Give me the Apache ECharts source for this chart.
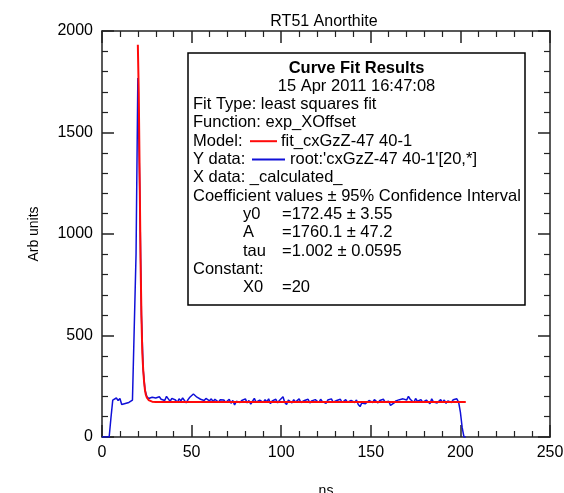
<!DOCTYPE html>
<html><head><meta charset="utf-8">
<script src="https://cdn.jsdelivr.net/npm/echarts@6/dist/echarts.min.js"></script>
<style>html,body{margin:0;padding:0;background:#fff}#c{width:564px;height:493px}</style>
</head><body><div id="c"></div>
<script>
// ---- data ----
const chartTitle = 'RT51 Anorthite';
const xAxisName = 'ns';
const yAxisName = 'Arb units';

// measured trace (blue), one sample per ns starting at 0 ns
const measuredStart = 0;
const measuredStep = 1;
const measuredValues = [
  0, 0, 0, 0, 0, 95, 182, 176, 192, 180,
  190, 160, 152, 165, 168, 170, 176, 182, 178, 900,
  1768, 1250, 600, 330, 230, 200, 190, 185, 196, 188,
  192, 184, 198, 186, 194, 180, 200, 188, 176, 190,
  196, 182, 170, 188, 178, 192, 186, 168, 184, 196,
  205, 212, 208, 196, 200, 186, 194, 180, 190, 184,
  178, 188, 174, 186, 180, 172, 184, 176, 182, 170,
  178, 186, 166, 180, 158, 176, 184, 170, 180, 174,
  188, 168, 180, 162, 176, 190, 172, 166, 182, 176,
  170, 184, 174, 188, 164, 178, 172, 186, 168, 180,
  176, 198, 170, 160, 182, 176, 168, 184, 172, 178,
  188, 170, 164, 180, 176, 186, 168, 178, 172, 184,
  176, 170, 186, 174, 180, 166, 182, 176, 188, 172,
  168, 180, 174, 186, 170, 178, 184, 172, 166, 180,
  176, 170, 182, 160, 150, 168, 176, 164, 172, 180,
  178, 170, 184, 176, 168, 180, 174, 186, 172, 166,
  176, 156, 150, 168, 178, 170, 184, 176, 188, 196,
  182, 200, 186, 178, 170, 190, 176, 168, 184, 172,
  166, 182, 176, 164, 188, 172, 180, 168, 176, 184,
  170, 182, 166, 178, 186, 170, 184, 176, 188, 172,
  122, 46, 0, 0
];

// fit curve (red)
const fitX = [20, 20.5, 21, 21.5, 22, 22.5, 23, 23.5, 24, 24.5, 25, 26, 27, 28, 30, 203];
const fitY = [1932, 1700, 1300, 880, 600, 414, 330, 270, 230, 207, 195, 182, 176, 174, 173, 172.45];

// axis ticks
const xMin = 0, xMax = 250, xInterval = 50;
const yMin = 0, yMax = 2000, yInterval = 500;

// annotation box text
const boxTitle = 'Curve Fit Results';
const boxDate = '15 Apr 2011 16:47:08';
const boxRows = [
  ['Fit Type: least squares fit'],
  ['Function: exp_XOffset'],
  ['Model:', 'model', 'fit_cxGzZ-47 40-1'],
  ['Y data:', 'ydata', "root:'cxGzZ-47 40-1'[20,*]"],
  ['X data: _calculated_'],
  ['Coefficient values \u00b1 95% Confidence Interval'],
  ['', 'y0', '=172.45 \u00b1 3.55'],
  ['', 'A', '=1760.1 \u00b1 47.2'],
  ['', 'tau', '=1.002 \u00b1 0.0595'],
  ['Constant:'],
  ['', 'X0', '=20']
];

// ---- build ----
const FONT = "'Liberation Sans', Arial, sans-serif";
const BLUE = '#1010d8';
const RED = '#ff0a0a';
const measured = measuredValues.map((v, i) => [measuredStart + i * measuredStep, v]);
const fit = fitX.map((x, i) => [x, fitY[i]]);

const axisLine = {show: true, onZero: false, lineStyle: {color: '#222', width: 1.5}};
const majorTick = {show: true, inside: true, length: 12, lineStyle: {color: '#222', width: 1.5}};
const minorTick = {show: true, splitNumber: 5, length: 6, lineStyle: {color: '#222', width: 1.2}};
const label = {color: '#000', fontFamily: FONT, fontSize: 16, formatter: v => String(v)};
const BOXFONT = '16.5px ' + FONT;

const graphics = [];
graphics.push({type: 'text', x: 324, y: 22, style: {text: chartTitle, font: '16px ' + FONT, fill: '#000', textAlign: 'center', textVerticalAlign: 'middle'}});
const boxL = 188, boxT = 53, boxR = 525, boxB = 305;
graphics.push({type: 'rect', shape: {x: boxL, y: boxT, width: boxR - boxL, height: boxB - boxT}, style: {fill: '#fff', stroke: '#000', lineWidth: 1.5}, z: 10});
const cx = (boxL + boxR) / 2;
const lineY0 = 68, lineStep = 18.3;
graphics.push({type: 'text', x: cx, y: lineY0, z: 11, style: {text: boxTitle, font: 'bold ' + BOXFONT, fill: '#000', textAlign: 'center', textVerticalAlign: 'middle'}});
graphics.push({type: 'text', x: cx, y: lineY0 + lineStep, z: 11, style: {text: boxDate, font: BOXFONT, fill: '#000', textAlign: 'center', textVerticalAlign: 'middle'}});
boxRows.forEach((row, i) => {
  const y = lineY0 + lineStep * (i + 2);
  const t = (x, s) => graphics.push({type: 'text', x: x, y: y, z: 11, style: {text: s, font: BOXFONT, fill: '#000', textAlign: 'left', textVerticalAlign: 'middle'}});
  if (row.length === 1) { t(193, row[0]); return; }
  if (row[1] === 'model' || row[1] === 'ydata') {
    t(193, row[0]);
    const isModel = row[1] === 'model';
    const x1 = isModel ? 250 : 252, x2 = isModel ? 277 : 285;
    graphics.push({type: 'line', z: 11, shape: {x1: x1, y1: y, x2: x2, y2: y}, style: {stroke: isModel ? RED : BLUE, lineWidth: 2}});
    t(isModel ? 281 : 290, row[2]);
    return;
  }
  t(243, row[1]);
  t(282, row[2]);
});

const chart = echarts.init(document.getElementById('c'));
chart.setOption({
  animation: false,
  backgroundColor: '#fff',
  grid: {left: 102, right: 14, top: 31, bottom: 56, containLabel: false, outerBoundsMode: 'none'},
  xAxis: [
    {type: 'value', min: xMin, max: xMax, interval: xInterval, position: 'bottom',
     name: xAxisName, nameLocation: 'middle', nameGap: 47, nameTextStyle: {color: '#000', fontFamily: FONT, fontSize: 14},
     axisLine: axisLine, axisTick: majorTick, minorTick: minorTick, splitLine: {show: false}, minorSplitLine: {show: false},
     axisLabel: Object.assign({margin: 8}, label)},
    {type: 'value', min: xMin, max: xMax, interval: xInterval, position: 'top',
     axisLine: axisLine, axisTick: majorTick, minorTick: minorTick, splitLine: {show: false}, axisLabel: {show: false}}
  ],
  yAxis: [
    {type: 'value', min: yMin, max: yMax, interval: yInterval, position: 'left',
     name: yAxisName, nameLocation: 'middle', nameGap: 61, nameRotate: 90, nameTextStyle: {color: '#000', fontFamily: FONT, fontSize: 14},
     axisLine: axisLine, axisTick: majorTick, minorTick: minorTick, splitLine: {show: false}, minorSplitLine: {show: false},
     axisLabel: Object.assign({margin: 9}, label)},
    {type: 'value', min: yMin, max: yMax, interval: yInterval, position: 'right',
     axisLine: axisLine, axisTick: majorTick, minorTick: minorTick, splitLine: {show: false}, axisLabel: {show: false}}
  ],
  series: [
    {type: 'line', name: 'measured', data: measured, xAxisIndex: 0, yAxisIndex: 0, showSymbol: false, symbol: 'none',
     lineStyle: {color: BLUE, width: 1.5}, z: 2},
    {type: 'line', name: 'fit', data: fit, xAxisIndex: 0, yAxisIndex: 0, showSymbol: false, symbol: 'none',
     lineStyle: {color: RED, width: 2}, z: 3}
  ],
  graphic: graphics
});
</script>
</body></html>
